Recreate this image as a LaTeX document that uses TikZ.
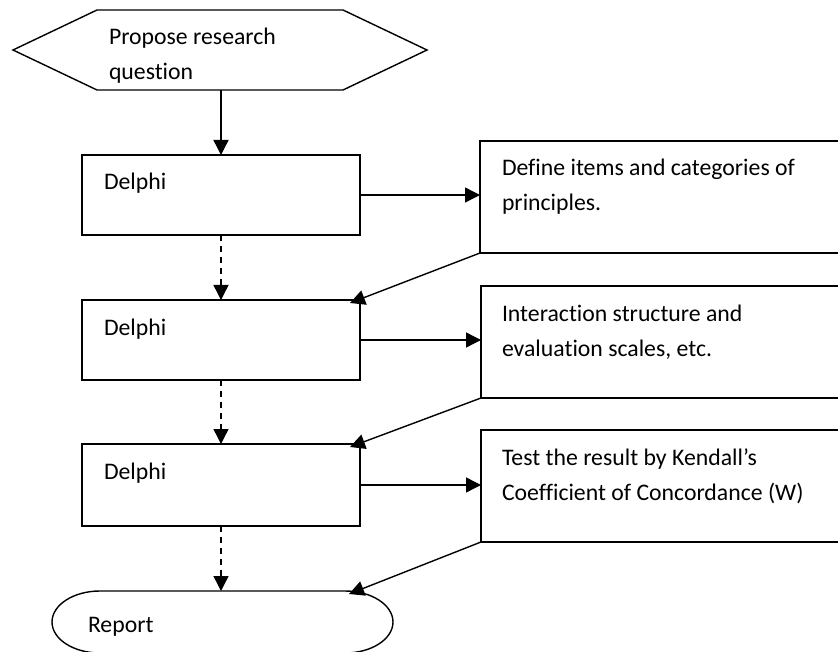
\documentclass[tikz,border=0pt]{standalone}
\usepackage{fontspec}
\setmainfont{Carlito}[Ligatures=NoCommon]
\usetikzlibrary{arrows.meta,calc}
\begin{document}
\begin{tikzpicture}[x=1pt,y=-1pt,
  frame/.style={draw=none,rectangle,inner sep=0pt,outer sep=0pt},
  stepbox/.style={draw,line width=1.4pt,rectangle,inner sep=0pt,outer sep=0pt},
  txt/.style={inner sep=0pt,outer sep=0pt,align=left,anchor=base west,
    font=\fontsize{23.75pt}{35pt}\selectfont},
  flow/.style={line width=1.4pt,-{Triangle[length=15pt,width=15pt]}},
  back/.style={flow,dash pattern=on 6pt off 5pt}]
\useasboundingbox (0,0) rectangle (838,652);
\clip (0,0) rectangle (838,652);

% start: hexagon
\node[frame,minimum width=414pt,minimum height=80pt,anchor=north west] (q) at (13,10) {};
\draw[line width=1.4pt] (q.west) -- ([xshift=84pt]q.north west) -- ([xshift=-84pt]q.north east)
  -- (q.east) -- ([xshift=-84pt]q.south east) -- ([xshift=84pt]q.south west) -- cycle;
% (base anchor of a two-line text sits on its last line)
\node[txt] (qt) at (109,80) {Propose research\\question};

% Delphi rounds
\node[stepbox,minimum width=278pt,minimum height=80pt,anchor=north west] (d1) at (82,155) {};
\node[stepbox,minimum width=278pt,minimum height=80pt,anchor=north west] (d2) at (82,300) {};
\node[stepbox,minimum width=278pt,minimum height=82pt,anchor=north west] (d3) at (82,444) {};
\node[txt] (d1t) at (104,190) {Delphi};
\node[txt] (d2t) at (104,335) {Delphi};
\node[txt] (d3t) at (104,479) {Delphi};

% outcomes of each round
\node[stepbox,minimum width=400pt,minimum height=112pt,anchor=north west] (r1) at (480,141) {};
\node[stepbox,minimum width=400pt,minimum height=112pt,anchor=north west] (r2) at (481,286) {};
\node[stepbox,minimum width=400pt,minimum height=112pt,anchor=north west] (r3) at (481,430) {};
\node[txt] (r1t) at (502,211) {Define items and categories of\\principles.};
\node[txt] (r2t) at (502,356) {Interaction structure and\\evaluation scales, etc.};
\node[txt] (r3t) at (502,500) {Test the result by Kendall’s\\Coefficient of Concordance (W)};

% end: report
\node[frame,minimum width=341pt,minimum height=62pt,anchor=north west] (rep) at (52,591) {};
\draw[line width=1.4pt] ([xshift=48pt]rep.north west) -- ([xshift=-48pt]rep.north east)
  arc[start angle=90,end angle=-90,x radius=48pt,y radius=31pt]
  -- ([xshift=48pt]rep.south west)
  arc[start angle=270,end angle=90,x radius=48pt,y radius=31pt] -- cycle;
\node[txt] (rept) at (88,632) {Report};

% connectors
\draw[flow] (d1.north |- q.south) -- (d1.north);
\draw[back] (d1.south) -- (d2.north);
\draw[back] (d2.south) -- (d3.north);
\draw[back] (d3.south) -- (d3.south |- rep.north);
\draw[flow] (d1.east) -- (r1.west |- d1.east);
\draw[flow] (d2.east) -- (r2.west |- d2.east);
\draw[flow] (d3.east) -- (r3.west |- d3.east);
\draw[flow] (r1.south west) -- ([xshift=-10pt,yshift=-3pt]d2.north east);
\draw[flow] (r2.south west) -- ([xshift=-10pt,yshift=-3pt]d3.north east);
\draw[flow] (r3.south west) -- ([xshift=-44pt,yshift=-3pt]rep.north east);
\end{tikzpicture}
\end{document}
